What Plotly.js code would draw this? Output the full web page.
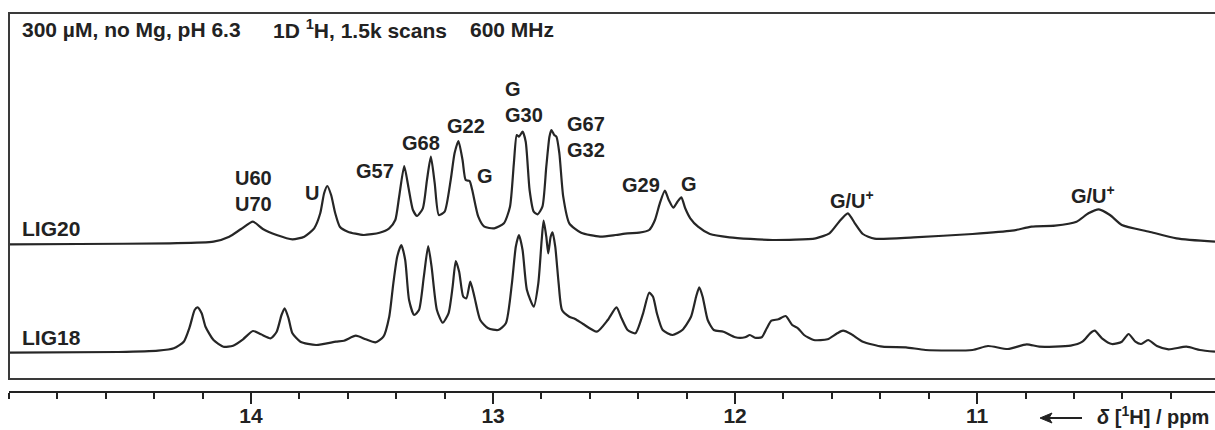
<!DOCTYPE html>
<html><head><meta charset="utf-8">
<script src="https://cdn.plot.ly/plotly-3.0.1.min.js"></script>
<style>html,body{margin:0;padding:0;background:#fff}</style>
</head><body><div id="chart" style="width:1215px;height:430px"></div>
<script>
// chemical shift (ppm) and intensity above each trace's own baseline
const lig20_ppm = [15.001,14.710,14.335,14.155,14.090,14.041,13.992,13.951,13.894,13.829,13.780,13.739,13.714,13.698,13.685,13.669,13.652,13.633,13.600,13.535,13.469,13.429,13.404,13.388,13.367,13.350,13.331,13.314,13.290,13.273,13.257,13.241,13.224,13.200,13.175,13.159,13.143,13.126,13.113,13.097,13.086,13.061,13.036,12.995,12.955,12.930,12.914,12.902,12.893,12.878,12.865,12.849,12.832,12.816,12.796,12.780,12.767,12.759,12.747,12.738,12.726,12.710,12.685,12.636,12.558,12.493,12.444,12.396,12.355,12.331,12.311,12.290,12.274,12.255,12.238,12.222,12.206,12.185,12.153,12.104,12.023,11.845,11.667,11.610,11.570,11.534,11.505,11.472,11.424,11.262,11.019,10.856,10.775,10.678,10.589,10.540,10.497,10.451,10.402,10.289,10.176,10.017];
const lig20_int = [0.7,1.0,1.7,3.3,8.3,16,23.3,16,10,5.7,8.3,16.7,31.7,51.7,59,50,31.7,18.3,13.3,10,12.3,16.7,25,48.3,79,58.3,35,29,36.7,65,88.3,61.7,30,33.3,65,91.7,104,85,65,64,55,28.3,18.3,16.7,21.7,38.3,81.7,110,108.3,113.3,103.3,55,33.3,30.7,38.3,78.3,108.3,115,110,108.3,91.7,48.3,21.7,12.3,8.3,10,11.7,12.3,15,25,41.7,54.3,45,37.3,43.3,47.7,36.7,26.7,18.3,11,7.7,5,6.7,11.7,23.3,31.7,21.7,11,6.3,7.7,11,14.3,18.3,19.3,23.3,31.7,35.7,30,20,13.3,6.7,3.3];
const lig18_ppm = [15.001,14.547,14.384,14.319,14.278,14.253,14.233,14.221,14.204,14.188,14.155,14.114,14.074,14.033,13.992,13.959,13.918,13.894,13.874,13.861,13.845,13.829,13.796,13.731,13.649,13.616,13.567,13.526,13.486,13.453,13.429,13.412,13.396,13.379,13.363,13.347,13.326,13.306,13.286,13.268,13.254,13.232,13.208,13.184,13.167,13.154,13.140,13.123,13.110,13.094,13.077,13.053,13.020,12.979,12.947,12.922,12.906,12.893,12.878,12.860,12.832,12.813,12.799,12.791,12.780,12.772,12.762,12.754,12.743,12.729,12.715,12.685,12.661,12.628,12.571,12.526,12.490,12.469,12.444,12.412,12.380,12.355,12.339,12.323,12.299,12.258,12.218,12.182,12.161,12.148,12.134,12.113,12.088,12.048,11.999,11.959,11.939,11.918,11.890,11.869,11.850,11.821,11.791,11.764,11.740,11.715,11.675,11.618,11.578,11.554,11.521,11.472,11.391,11.294,11.213,11.019,10.955,10.873,10.795,10.743,10.613,10.565,10.533,10.514,10.484,10.443,10.402,10.374,10.346,10.322,10.293,10.257,10.209,10.135,10.079,10.017];
const lig18_int = [0.3,1,2.3,4.7,11.3,26.3,43,45.7,39.7,26.3,13,6.3,7.3,13.7,22,18.7,14.7,21.3,38,44.7,34.7,19.7,11.3,8,11.3,12.3,17.3,13.7,10.7,16.3,36.3,69.7,96.3,108,93,53,38,43,76.3,107,86.3,43,30.3,39.7,66.3,92,81.3,56.3,54.7,71.3,56.3,33,24.7,23,29.7,69.7,106.3,118,103,63,46.3,69.7,113,132.3,116.3,99.7,116.3,120.7,106.3,69.7,43,36.3,34,29,21.3,33,45.7,34.7,23,19.7,39.7,60.3,56.3,39.7,23,18,23,36.3,56.3,65.7,56.3,33,23,21.3,15.7,15.7,18,15.3,15.7,24.7,32.3,33.7,37,28,24.7,18,13,13.7,19.7,22.3,19,11.3,6.3,5.7,3,3,7,4,8.7,6.3,7.3,11.3,19.7,22.3,14.7,9,11.3,19,11.3,9,13,7,3.7,6.3,3,1.3];
const series_names = ['LIG20', 'LIG18'];
const tick_vals = [14, 13, 12, 11];
const tick_labels = ['14', '13', '12', '11'];
const header_texts = ['300 µM, no Mg, pH 6.3', '1D <sup>1</sup>H, 1.5k scans', '600 MHz'];
const peak_texts = ['U60<br>U70', 'U', 'G57', 'G68', 'G22', 'G', 'G<br>G30', 'G67<br>G32', 'G29', 'G', 'G/U<sup>+</sup>', 'G/U<sup>+</sup>'];
const axis_label = '<i>δ</i> [<sup>1</sup>H] / ppm';

// ---- layout geometry (pixels) ----
const W = 1215, H = 430, ML = 9, MR = 0, MT = 13, MB = 39;
const PW = W - ML - MR, PH = H - MT - MB;
const fx = px => (px - ML) / PW;
const fy = py => (H - MB - py) / PH;
const offsets = [146, 38]; // vertical stacking of the two spectra (axis units)

const FONT = 'Liberation Sans, Arial, sans-serif';
const COL = '#262626';

const traces = [
  {x: lig20_ppm, y: lig20_int.map(v => v + offsets[0]), name: series_names[0]},
  {x: lig18_ppm, y: lig18_int.map(v => v + offsets[1]), name: series_names[1]}
].map(t => Object.assign(t, {type: 'scatter', mode: 'lines', line: {color: COL, width: 2.2, shape: 'spline', smoothing: 0.6}, hoverinfo: 'skip'}));

function ann(text, px, py, opts) {
  return Object.assign({text: '<b>' + text + '</b>', xref: 'paper', yref: 'paper', x: fx(px), y: fy(py),
    xanchor: 'center', yanchor: 'middle', showarrow: false, font: {family: FONT, size: 20, color: '#222'}}, opts || {});
}
const big = {family: FONT, size: 21, color: '#222'};

const peakPos = [[253, 191], [312, 193], [375, 171], [421, 143], [466, 126], [485, 176], [503, 102, 'left'], [586, 137], [641, 185], [689, 184], [852, 199], [1093, 194]];
const annotations = [];
header_texts.forEach((t, i) => annotations.push(ann(t, [20, 271, 468][i], 29, {xanchor: 'left', font: big})));
series_names.forEach((t, i) => annotations.push(ann(t, 20, [228, 337][i], {xanchor: 'left', font: big})));
peak_texts.forEach((t, i) => {
  const p = peakPos[i];
  const o = {};
  if (p[2] === 'left') { o.xanchor = 'left'; o.align = 'left'; }
  annotations.push(ann(t, p[0], p[1], o));
});
annotations.push(ann(axis_label, 1095, 415, {xanchor: 'left', font: {family: FONT, size: 20, color: '#222'}}));

// arrow (decreasing chemical shift direction)
const ay = fy(418);
const arrowShapes = [
  {type: 'line', xref: 'paper', yref: 'paper', x0: fx(1047), x1: fx(1082), y0: ay, y1: ay, line: {color: '#222', width: 2.2}},
  {type: 'path', xref: 'paper', yref: 'paper',
   path: `M ${fx(1040)} ${ay} L ${fx(1052)} ${fy(413)} L ${fx(1049)} ${ay} L ${fx(1052)} ${fy(423)} Z`,
   fillcolor: '#222', line: {color: '#222', width: 1}}
];

const layout = {
  width: W, height: H, autosize: false,
  margin: {l: ML, r: MR, t: MT, b: MB, pad: 0},
  paper_bgcolor: '#fff', plot_bgcolor: '#fff', showlegend: false,
  xaxis: {range: [15.0, 10.017], tickmode: 'array', tickvals: tick_vals, ticktext: tick_labels,
    showline: true, linecolor: '#222', linewidth: 2, showgrid: false, zeroline: false,
    ticks: 'outside', ticklen: 11, tickwidth: 2, tickcolor: '#222',
    tickfont: {family: FONT, size: 21, color: '#222', weight: 'bold'},
    ticklabelstandoff: -6,
    minor: {tickmode: 'linear', tick0: 0, dtick: 0.2, ticks: 'outside', ticklen: 6, tickwidth: 2, tickcolor: '#222', showgrid: false},
    fixedrange: true},
  yaxis: {range: [0, PH], visible: false, fixedrange: true},
  shapes: [{type: 'rect', xref: 'paper', yref: 'paper', x0: 0, x1: 1.05, y0: fy(379), y1: 1, line: {color: '#3a3a3a', width: 2}, layer: 'above'}].concat(arrowShapes),
  annotations: annotations
};

Plotly.newPlot('chart', traces, layout, {staticPlot: true, displayModeBar: false});
</script>
</body></html>
